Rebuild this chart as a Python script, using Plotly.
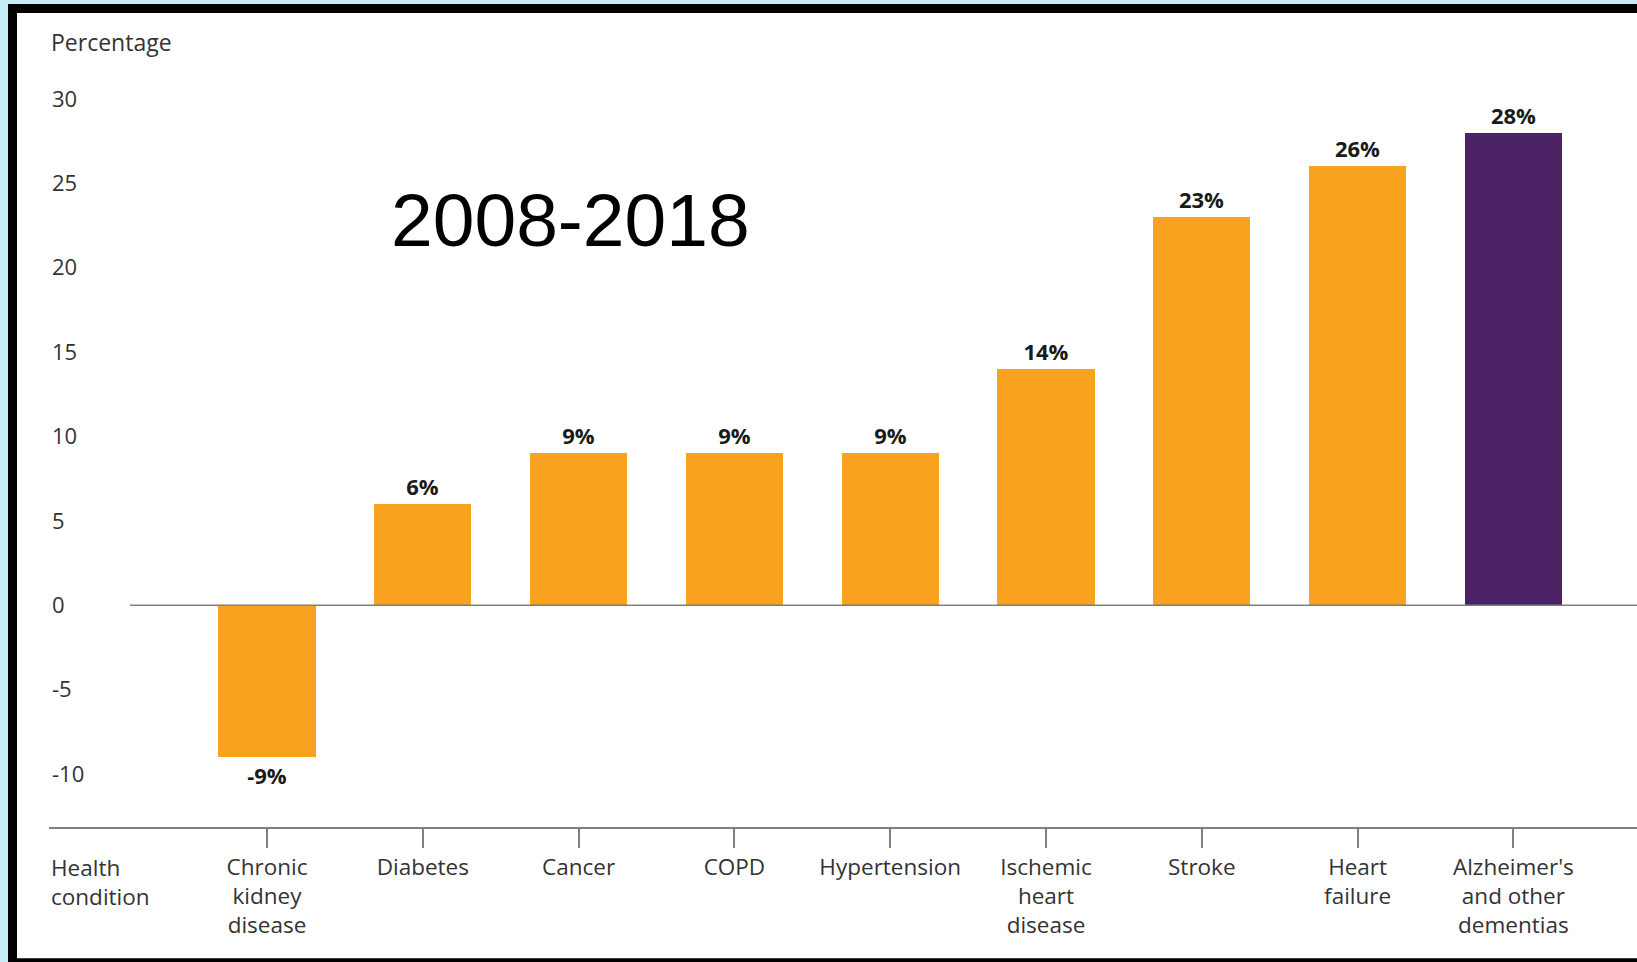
import plotly.graph_objects as go

# ---- data ----
categories = ["Chronic<br>kidney<br>disease", "Diabetes", "Cancer", "COPD", "Hypertension",
              "Ischemic<br>heart<br>disease", "Stroke", "Heart<br>failure",
              "Alzheimer's<br>and other<br>dementias"]
values = [-9, 6, 9, 9, 9, 14, 23, 26, 28]
value_labels = ["-9%", "6%", "9%", "9%", "9%", "14%", "23%", "26%", "28%"]
y_ticks = [30, 25, 20, 15, 10, 5, 0, -5, -10]
y_tick_labels = ["30", "25", "20", "15", "10", "5", "0", "-5", "-10"]

# ---- layout geometry (pixels) ----
W, H = 1637, 962
L, R, T, B = 49, 0, 82, 135.3
PW, PH = W - L - R, H - T - B

def px_x(p):
    return (p - L) / PW

def px_y(p):
    return (H - B - p) / PH

ORANGE = "#F8A21F"
PURPLE = "#4B2263"
colors = [ORANGE] * (len(values) - 1) + [PURPLE]
x_pos = list(range(len(categories)))

FONT = "Open Sans"
LABEL_SIZE = 22.5

fig = go.Figure()
fig.add_trace(go.Bar(
    x=x_pos, y=values, width=0.625,
    marker=dict(color=colors, line=dict(width=0)),
    text=value_labels, textposition="outside",
    textfont=dict(family=FONT, size=22, color="#1a1a1a", weight="bold"),
    cliponaxis=False, hoverinfo="skip",
))

shapes = [
    # zero line
    dict(type="line", xref="paper", yref="y", x0=px_x(130), x1=1, y0=0, y1=0,
         line=dict(color="#7f7f7f", width=1.5), layer="above"),
    # frame: light blue outer, black inner
    dict(type="rect", xref="paper", yref="paper", x0=px_x(0), x1=px_x(8), y0=px_y(H), y1=px_y(0),
         fillcolor="#C6EDF7", line=dict(width=0)),
    dict(type="rect", xref="paper", yref="paper", x0=px_x(0), x1=px_x(W), y0=px_y(4), y1=px_y(0),
         fillcolor="#C6EDF7", line=dict(width=0)),
    dict(type="rect", xref="paper", yref="paper", x0=px_x(8), x1=px_x(17), y0=px_y(H), y1=px_y(4),
         fillcolor="#000000", line=dict(width=0)),
    dict(type="rect", xref="paper", yref="paper", x0=px_x(8), x1=px_x(W), y0=px_y(13), y1=px_y(4),
         fillcolor="#000000", line=dict(width=0)),
    dict(type="rect", xref="paper", yref="paper", x0=px_x(8), x1=px_x(W), y0=px_y(H), y1=px_y(958),
         fillcolor="#000000", line=dict(width=0)),
]

annotations = [
    dict(text="Percentage", xref="paper", yref="paper", x=0, y=1, xanchor="left", yanchor="middle",
         yshift=T - 41.8, showarrow=False, font=dict(family=FONT, size=23, color="#333333")),
    dict(text="Health<br>condition", xref="paper", yref="paper", x=0, y=0, xanchor="left", yanchor="top",
         yshift=-23, showarrow=False, align="left", font=dict(family=FONT, size=LABEL_SIZE, color="#333333")),
    dict(text="2008-2018", xref="paper", yref="paper", x=px_x(570), y=px_y(220), xanchor="center",
         yanchor="middle", showarrow=False, font=dict(family="Liberation Sans", size=75, color="#000000")),
]

fig.update_layout(
    width=W, height=H,
    margin=dict(l=L, r=R, t=T, b=B, pad=0),
    paper_bgcolor="white", plot_bgcolor="white",
    showlegend=False,
    shapes=shapes, annotations=annotations,
    xaxis=dict(
        range=[-(267 - L) / 155.8, (W - 267) / 155.8],
        tickmode="array", tickvals=x_pos, ticktext=categories,
        showline=True, linecolor="#7f7f7f", linewidth=1.5,
        ticks="outside", ticklen=19, tickcolor="#7f7f7f", tickwidth=1.5,
        showgrid=False, zeroline=False,
        tickfont=dict(family=FONT, size=LABEL_SIZE, color="#333333"),
    ),
    yaxis=dict(
        range=[-13.14, 31],
        tickmode="array", tickvals=y_ticks, ticktext=y_tick_labels,
        ticklabelposition="inside", ticks="",
        showgrid=False, zeroline=False, showline=False,
        tickfont=dict(family=FONT, size=22, color="#333333"),
    ),
    bargap=0,
)

fig.write_html("out.html", config={"displayModeBar": False},
               post_script="document.body.style.margin='0';")
